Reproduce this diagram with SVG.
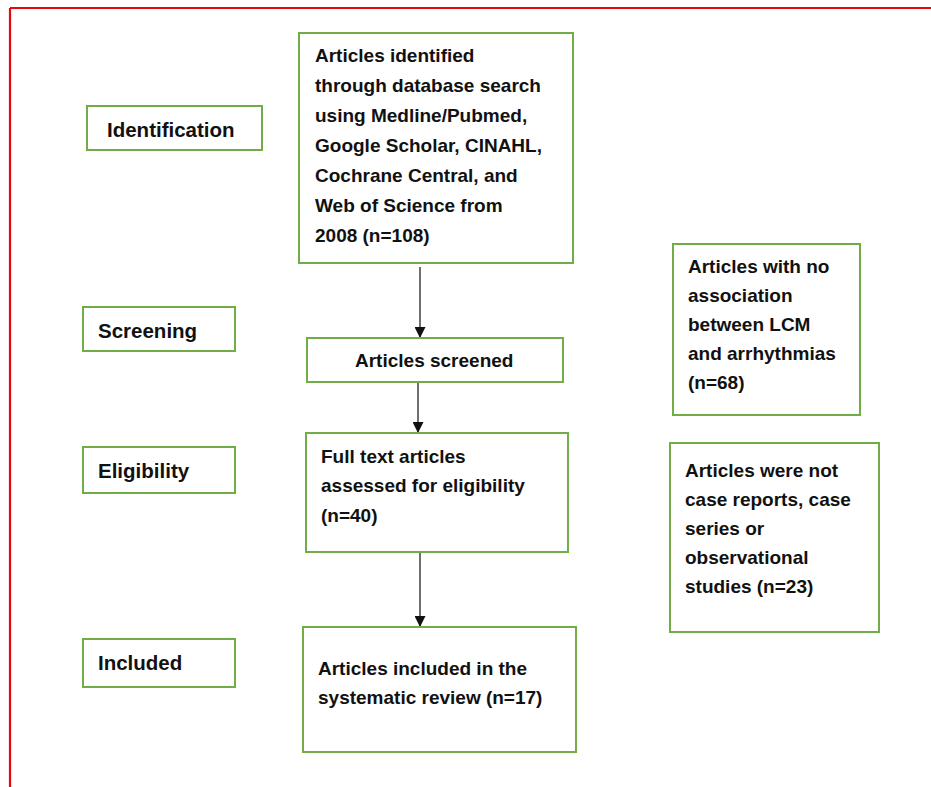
<svg xmlns="http://www.w3.org/2000/svg" width="931" height="787" viewBox="0 0 931 787">
<defs>
<style>
.box{fill:#ffffff;stroke:#70ad47;stroke-width:2}
.t{font-family:"Liberation Sans",Arial,sans-serif;font-weight:bold;font-size:19px;fill:#111111}
.lbl{font-family:"Liberation Sans",Arial,sans-serif;font-weight:bold;font-size:20.5px;fill:#111111}
.conn{stroke:#222222;stroke-width:1.3;fill:none;marker-end:url(#ah)}
</style>
<marker id="ah" markerUnits="userSpaceOnUse" markerWidth="12" markerHeight="11" refX="11" refY="5.5" orient="auto">
<path d="M0,0 L11,5.5 L0,11 Z" fill="#111111"/>
</marker>
</defs>
<rect x="0" y="0" width="931" height="787" fill="#ffffff"/>
<g id="frame">
<line x1="10" y1="8" x2="931" y2="8" stroke="#e8070b" stroke-width="2.2"/>
<line x1="10" y1="8" x2="10" y2="787" stroke="#e8070b" stroke-width="2.2"/>
</g>
<g id="connectors">
<line class="conn" x1="420" y1="267" x2="420" y2="338"/>
<line class="conn" x1="418" y1="382" x2="418" y2="433"/>
<line class="conn" x1="420" y1="552" x2="420" y2="627"/>
</g>
<g id="label-identification">
<rect class="box" x="87" y="106" width="175" height="44"/>
<text class="lbl" x="107" y="137">Identification</text>
</g>
<g id="label-screening">
<rect class="box" x="83" y="307" width="152" height="44"/>
<text class="lbl" x="98" y="338">Screening</text>
</g>
<g id="label-eligibility">
<rect class="box" x="83" y="447" width="152" height="46"/>
<text class="lbl" x="98" y="478">Eligibility</text>
</g>
<g id="label-included">
<rect class="box" x="83" y="639" width="152" height="48"/>
<text class="lbl" x="98" y="670">Included</text>
</g>
<g id="node-identified">
<rect class="box" x="299" y="33" width="274" height="230"/>
<text class="t" x="315" y="62">Articles identified</text>
<text class="t" x="315" y="92">through database search</text>
<text class="t" x="315" y="122">using Medline/Pubmed,</text>
<text class="t" x="315" y="152">Google Scholar, CINAHL,</text>
<text class="t" x="315" y="182">Cochrane Central, and</text>
<text class="t" x="315" y="212">Web of Science from</text>
<text class="t" x="315" y="242">2008 (n=108)</text>
</g>
<g id="node-screened">
<rect class="box" x="307" y="338" width="256" height="44"/>
<text class="t" x="355" y="367">Articles screened</text>
</g>
<g id="node-fulltext">
<rect class="box" x="306" y="433" width="262" height="119"/>
<text class="t" x="321" y="463">Full text articles</text>
<text class="t" x="321" y="492">assessed for eligibility</text>
<text class="t" x="321" y="522">(n=40)</text>
</g>
<g id="node-included">
<rect class="box" x="303" y="627" width="273" height="125"/>
<text class="t" x="318" y="675">Articles included in the</text>
<text class="t" x="318" y="704">systematic review (n=17)</text>
</g>
<g id="node-excluded-1">
<rect class="box" x="673" y="244" width="187" height="171"/>
<text class="t" x="688" y="273">Articles with no</text>
<text class="t" x="688" y="302">association</text>
<text class="t" x="688" y="331">between LCM</text>
<text class="t" x="688" y="360">and arrhythmias</text>
<text class="t" x="688" y="389">(n=68)</text>
</g>
<g id="node-excluded-2">
<rect class="box" x="670" y="443" width="209" height="189"/>
<text class="t" x="685" y="477">Articles were not</text>
<text class="t" x="685" y="506">case reports, case</text>
<text class="t" x="685" y="535">series or</text>
<text class="t" x="685" y="564">observational</text>
<text class="t" x="685" y="593">studies (n=23)</text>
</g>
</svg>
